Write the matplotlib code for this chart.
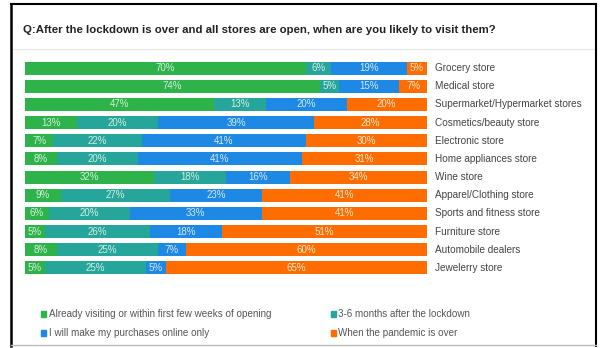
import matplotlib
matplotlib.use("Agg")
import matplotlib.pyplot as plt
import numpy as np
from matplotlib.patches import Rectangle
from matplotlib.lines import Line2D

stores = ["Grocery store", "Medical store", "Supermarket/Hypermarket stores",
          "Cosmetics/beauty store", "Electronic store", "Home appliances store",
          "Wine store", "Apparel/Clothing store", "Sports and fitness store",
          "Furniture store", "Automobile dealers", "Jewelerry store"]

already = [70, 74, 47, 13, 7, 8, 32, 9, 6, 5, 8, 5]
months_3_6 = [6, 5, 13, 20, 22, 20, 18, 27, 20, 26, 25, 25]
online_only = [19, 15, 20, 39, 41, 41, 16, 23, 33, 18, 7, 5]
pandemic_over = [5, 7, 20, 28, 30, 31, 34, 41, 41, 51, 60, 65]

series_names = ["Already visiting or within first few weeks of opening",
                "3-6 months after the lockdown",
                "I will make my purchases online only",
                "When the pandemic is over"]
colors = ["#2db34a", "#26a69a", "#1e88e5", "#ff6d00"]

plt.rcParams["font.family"] = ["Liberation Sans", "DejaVu Sans"]

W, H = 604, 348
fig = plt.figure(figsize=(W / 100, H / 100), dpi=100)
ax = fig.add_axes([25 / W, 1 - 277 / H, 402 / W, 218 / H])

data = np.array([already, months_3_6, online_only, pandemic_over], dtype=float)
totals = data.sum(axis=0)
shares = data / totals * 100
y = np.arange(len(stores))
left = np.zeros(len(stores))
for vals, shr, col in zip(data, shares, colors):
    ax.barh(y, shr, left=left, height=0.72, color=col, edgecolor="none")
    for yi, l, s, v in zip(y, left, shr, vals):
        ax.text(l + s / 2, yi, f"{int(v)}%", ha="center", va="center",
                color="#e6f4ea", fontsize=7, alpha=0.9)
    left += shr

ax.set_xlim(0, 100)
ax.set_ylim(len(stores) - 0.5, -0.5)
ax.axis("off")

for yi, name in zip(y, stores):
    ax.text(102.0, yi, name, ha="left", va="center", color="#444444", fontsize=7.2)

# title and frame
fig.text(23 / W, 1 - 30 / H, "Q:After the lockdown is over and all stores are open, when are you likely to visit them?",
         fontsize=8.2, fontweight="bold", color="#222222", va="center", ha="left")
fig.add_artist(Line2D([12 / W, 595 / W], [1 - 49 / H] * 2, color="#e6e6e6", lw=0.8))
fig.add_artist(Line2D([11 / W, 11 / W], [1 - 4 / H, 1 - 346 / H], color="black", lw=1.8))
fig.add_artist(Line2D([11 / W, 596 / W], [1 - 4 / H] * 2, color="black", lw=1.5))
fig.add_artist(Line2D([596 / W, 596 / W], [1 - 4 / H, 1 - 346 / H], color="black", lw=1.5))
fig.add_artist(Line2D([11 / W, 596 / W], [1 - 345 / H] * 2, color="#bbbbbb", lw=1))

# legend, two columns
leg_x = [44, 333]
leg_y = [314, 333]
for i, (name, col) in enumerate(zip(series_names, colors)):
    cx = leg_x[i % 2]
    cy = leg_y[i // 2]
    fig.add_artist(Rectangle((cx / W - 2.5 / W, 1 - cy / H - 3 / H), 5 / W, 6 / H,
                             color=col, transform=fig.transFigure))
    fig.text((cx + 5) / W, 1 - cy / H, name, fontsize=7.1, color="#555555",
             va="center", ha="left")

fig.savefig("out.png", dpi=100)
